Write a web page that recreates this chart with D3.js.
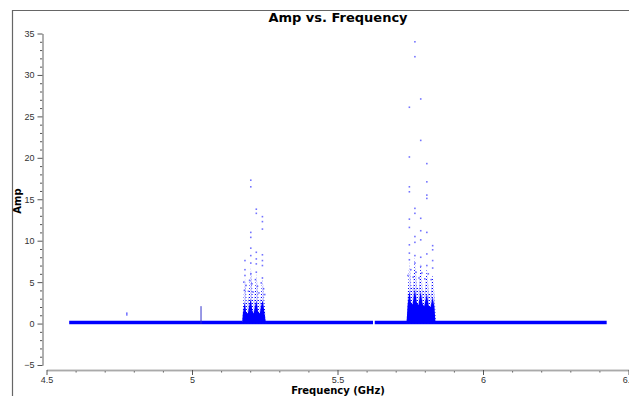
<!DOCTYPE html>
<html>
<head>
<meta charset="utf-8">
<script src="https://cdn.jsdelivr.net/npm/d3@7"></script>
<style>
  body { margin: 0; background: #fff; }
  svg { font-family: "DejaVu Sans", sans-serif; }
  .tick text { fill: #333; font-size: 9px; }
</style>
</head>
<body>
<svg id="chart" width="629" height="396"></svg>
<script>
var width = 629, height = 396;

// x ticks and y ticks
var xMajorTicks = [4.5, 5, 5.5, 6, 6.5];
var yMajorTicks = [-5, 0, 5, 10, 15, 20, 25, 30, 35];

// flat noise floor: [startGHz, endGHz, ampLow, ampHigh]
var floorSegments = [[4.578, 5.622, -0.08, 0.34], [5.628, 6.425, -0.08, 0.34]];

// isolated marks
var spikeLine = [[5.031, 0], [5.031, 2.1]];
var strayPoints = [[4.776, 1.05], [4.776, 1.25]];

// dense cores of the two bursts (top envelope, amp)
var burst1Core = [[5.172, 0], [5.175, 1.2], [5.181, 2.6], [5.186, 1.4], [5.192, 1.2], [5.197, 2.2], [5.202, 3.0],
  [5.207, 1.6], [5.212, 1.2], [5.216, 2.0], [5.221, 2.8], [5.227, 1.5], [5.233, 1.2], [5.238, 2.2], [5.243, 2.8],
  [5.248, 1.6], [5.254, 0]];
var burst1Halo = [[5.172, 0], [5.177, 3.0], [5.182, 5.6], [5.188, 2.6], [5.195, 3.2], [5.202, 7.0], [5.209, 3.0],
  [5.214, 2.8], [5.221, 6.2], [5.229, 2.8], [5.236, 3.0], [5.242, 5.8], [5.249, 2.6], [5.255, 0]];
var burst2Core = [[5.737, 0], [5.741, 2.2], [5.747, 4.0], [5.752, 2.6], [5.758, 2.3], [5.766, 4.2], [5.772, 2.6],
  [5.778, 2.2], [5.786, 3.9], [5.792, 2.4], [5.798, 2.1], [5.807, 3.6], [5.813, 2.2], [5.820, 2.0], [5.827, 3.2],
  [5.833, 2.0], [5.837, 0]];
var burst2Halo = [[5.737, 0], [5.742, 4.0], [5.747, 7.8], [5.754, 4.4], [5.760, 4.4], [5.766, 8.0], [5.773, 4.6],
  [5.779, 4.0], [5.786, 7.2], [5.793, 4.0], [5.800, 3.8], [5.807, 6.8], [5.814, 3.8], [5.820, 3.5], [5.827, 6.0],
  [5.834, 3.2], [5.838, 0]];

// sparse outliers above the bursts
var burst1Points = [[5.202, 17.3], [5.202, 16.5], [5.221, 13.8], [5.221, 13.3], [5.242, 12.9], [5.242, 12.3],
  [5.242, 11.4], [5.202, 11.0], [5.202, 10.4], [5.202, 9.1], [5.182, 7.6], [5.221, 8.6], [5.242, 8.3], [5.221, 7.8],
  [5.202, 7.3], [5.242, 7.0], [5.182, 6.5], [5.182, 5.8], [5.221, 6.2], [5.202, 6.0], [5.242, 5.5], [5.178, 5.0],
  [5.186, 4.6], [5.198, 5.2], [5.206, 4.8], [5.218, 5.3], [5.225, 4.5], [5.238, 4.9], [5.246, 4.2], [5.180, 4.0],
  [5.194, 3.9], [5.210, 3.8], [5.230, 3.7], [5.250, 3.5], [5.221, 7.2], [5.242, 7.6], [5.202, 8.2]];
var burst2Points = [[5.766, 34.0], [5.766, 32.2], [5.786, 27.1], [5.747, 26.1], [5.786, 22.1], [5.747, 20.1],
  [5.807, 19.3], [5.807, 17.1], [5.747, 16.5], [5.747, 15.9], [5.807, 15.5], [5.807, 15.1], [5.766, 13.9],
  [5.766, 13.3], [5.747, 12.6], [5.786, 12.7], [5.747, 11.6], [5.786, 11.2], [5.807, 11.0], [5.827, 9.4],
  [5.827, 8.9], [5.747, 9.5], [5.766, 10.5], [5.766, 9.8], [5.786, 10.1], [5.747, 8.5], [5.766, 8.2], [5.786, 8.0],
  [5.807, 8.4], [5.827, 7.6], [5.747, 7.7], [5.766, 7.3], [5.786, 6.9], [5.807, 7.0], [5.827, 6.7], [5.752, 6.5],
  [5.770, 6.2], [5.790, 6.1], [5.812, 6.0], [5.742, 5.8], [5.760, 5.6], [5.780, 5.5], [5.800, 5.4], [5.822, 5.3]];

var svg = d3.select('#chart');

var x = d3.scaleLinear().domain([4.5, 6.5]).range([46.5, 628.5]);
var y = d3.scaleLinear().domain([-5, 35]).range([365, 33.5]);

// speckle pattern for the sparse part of the bursts
var pat = svg.append('defs').append('pattern').attr('id', 'speckle')
    .attr('patternUnits', 'userSpaceOnUse').attr('width', 3).attr('height', 3);
pat.append('rect').attr('x', 0).attr('y', 0).attr('width', 1).attr('height', 1).attr('fill', '#0000ff');
pat.append('rect').attr('x', 1.5).attr('y', 1.5).attr('width', 1).attr('height', 1).attr('fill', '#4040ff');
pat.append('rect').attr('x', 2).attr('y', 0).attr('width', 1).attr('height', 1).attr('fill', '#8080ff');

// outer frame
svg.append('line').attr('x1', 12).attr('y1', 10.5).attr('x2', width).attr('y2', 10.5)
    .attr('stroke', '#666').attr('stroke-width', 1.2);
svg.append('line').attr('x1', 12.5).attr('y1', 10).attr('x2', 12.5).attr('y2', height)
    .attr('stroke', '#666').attr('stroke-width', 1.2);

// title + labels
svg.append('text').attr('x', 338).attr('y', 22).attr('text-anchor', 'middle')
    .style('font-weight', 'bold').style('font-size', '13px').text('Amp vs. Frequency');
svg.append('text').attr('x', 338).attr('y', 394).attr('text-anchor', 'middle')
    .style('font-weight', 'bold').style('font-size', '10px').text('Frequency (GHz)');
svg.append('text').attr('transform', 'translate(21,201) rotate(-90)').attr('text-anchor', 'middle')
    .style('font-weight', 'bold').style('font-size', '10px').text('Amp');

// axes
function styleAxis(g)
{
    g.select('.domain').attr('stroke', '#aaa').attr('stroke-width', 1.5);
    g.selectAll('.tick line').attr('stroke', '#555');
}

var xMinor = d3.range(4.5, 6.5001, 0.1).filter(function(v) { return Math.abs(v * 2 - Math.round(v * 2)) > 1e-6; });
var yMinor = d3.range(-5, 35.001, 1).filter(function(v) { return v % 5 != 0; });

svg.append('g').attr('transform', 'translate(0,370)')
    .call(d3.axisBottom(x).tickValues(xMinor).tickFormat('').tickSize(2.5).tickSizeOuter(0))
    .call(styleAxis);
svg.append('g').attr('transform', 'translate(0,370)')
    .call(d3.axisBottom(x).tickValues(xMajorTicks).tickFormat(d3.format('')).tickSize(5).tickSizeOuter(0).tickPadding(2))
    .call(styleAxis);

svg.append('g').attr('transform', 'translate(42.5,0)')
    .call(d3.axisLeft(y).tickValues(yMinor).tickFormat('').tickSize(2.5).tickSizeOuter(0))
    .call(styleAxis);
svg.append('g').attr('transform', 'translate(42.5,0)')
    .call(d3.axisLeft(y).tickValues(yMajorTicks).tickSize(5).tickSizeOuter(0).tickPadding(3))
    .call(styleAxis);

// data
var blue = '#0000ff';
var plot = svg.append('g');

plot.selectAll('rect.floor').data(floorSegments).enter().append('rect')
    .attr('class', 'floor')
    .attr('x', function(d) { return x(d[0]); })
    .attr('width', function(d) { return x(d[1]) - x(d[0]); })
    .attr('y', function(d) { return y(d[3]); })
    .attr('height', function(d) { return y(d[2]) - y(d[3]); })
    .attr('fill', blue);

var area = d3.area().x(function(d) { return x(d[0]); }).y0(y(0)).y1(function(d) { return y(d[1]); });

[burst1Halo, burst2Halo].forEach(function(h)
{
    plot.append('path').attr('d', area(h)).attr('fill', 'url(#speckle)');
});
[burst1Core, burst2Core].forEach(function(c)
{
    plot.append('path').attr('d', area(c)).attr('fill', blue);
});

plot.append('path').attr('d', d3.line().x(function(d) { return x(d[0]); }).y(function(d) { return y(d[1]); })(spikeLine))
    .attr('stroke', '#3333cc').attr('stroke-width', 1);

plot.selectAll('rect.pt').data(burst1Points.concat(burst2Points, strayPoints)).enter().append('rect')
    .attr('class', 'pt')
    .attr('x', function(d) { return x(d[0]) - 0.8; })
    .attr('y', function(d) { return y(d[1]) - 0.8; })
    .attr('width', 1.6).attr('height', 1.6)
    .attr('fill', blue).attr('fill-opacity', 0.55);
</script>
</body>
</html>
